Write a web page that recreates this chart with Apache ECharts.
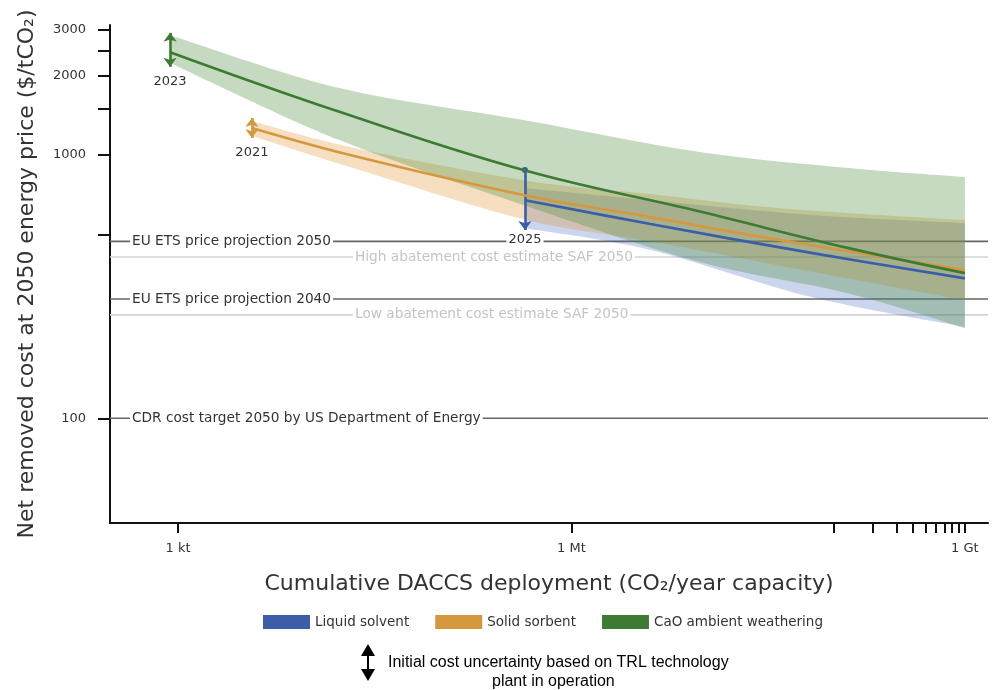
<!DOCTYPE html>
<html><head><meta charset="utf-8">
<script src="https://cdn.jsdelivr.net/npm/echarts@6/dist/echarts.min.js"></script>
<style>html,body{margin:0;padding:0;background:#fff}#c{width:992px;height:690px}</style>
</head><body><div id="c"></div>
<script>
// x: cumulative deployment (t CO2 / year), y: net removed cost ($/tCO2)
const liquidX    = [442000, 4.0e6, 6.9e7, 1e9];
const liquidMid  = [674, 547, 424, 340];
const liquidHigh = [750, 674, 592, 551];
const liquidLow  = [527, 436, 288, 222];

const solidX    = [3660, 20500, 430000, 4.0e6, 3.9e7, 1e9];
const solidMid  = [1267, 1000, 705, 581, 475, 366];
const solidHigh = [1346, 1073, 803, 711, 628, 566];
const solidLow  = [1181, 900, 570, 470, 380, 281];

const caoX    = [870, 17000, 430000, 9.5e6, 1.3e8, 1e9];
const caoMid  = [2460, 1460, 877, 610, 443, 356];
const caoHigh = [2855, 1798, 1359, 1027, 893, 825];
const caoLow  = [2240, 1140, 646, 392, 298, 220];

// initial cost uncertainty (TRL) arrows
const arrowYears = ['2025', '2021', '2023'];
const arrowX     = [442000, 3660, 870];
const arrowLow   = [519, 1161, 2164];
const arrowHigh  = [877, 1383, 2913];

// reference lines
const refValues = [470, 410, 284, 247, 100];
const refLabels = ['EU ETS price projection 2050', 'High abatement cost estimate SAF 2050',
  'EU ETS price projection 2040', 'Low abatement cost estimate SAF 2050',
  'CDR cost target 2050 by US Department of Energy'];
const refStrong = [true, false, true, false, true];

// axes
const xMinT = 303, xMaxT = 1.5e9;
const yMinV = 40, yMaxV = 3120;
const yTicks = [100, 500, 1000, 1500, 2000, 2500, 3000];
const yTickLabels = [100, 1000, 2000, 3000];
const xTicks = [1e3, 1e6, 1e8, 2e8, 3e8, 4e8, 5e8, 6e8, 7e8, 8e8, 9e8, 1e9];
const xTickLabels = [1e3, 1e6, 1e9];
const xTickNames = ['1 kt', '1 Mt', '1 Gt'];

const seriesNames = ['Liquid solvent', 'Solid sorbent', 'CaO ambient weathering'];
const lineColors = ['#3c5ea8', '#d6983f', '#3d7a34'];
const bandColors = ['rgba(70,105,195,0.28)', 'rgba(225,150,45,0.30)', 'rgba(76,140,60,0.32)'];

const lg = Math.log10;
const FONT = 'DejaVu Sans';

const groups = [
  {x: liquidX, mid: liquidMid, hi: liquidHigh, lo: liquidLow},
  {x: solidX, mid: solidMid, hi: solidHigh, lo: solidLow},
  {x: caoX, mid: caoMid, hi: caoHigh, lo: caoLow}
];

// smooth curve through pixel points (Catmull-Rom -> cubic Bezier)
function curveSegs(p) {
  let s = '';
  for (let i = 0; i < p.length - 1; i++) {
    const p0 = p[Math.max(i - 1, 0)], p1 = p[i], p2 = p[i + 1], p3 = p[Math.min(i + 2, p.length - 1)];
    const c1 = [p1[0] + (p2[0] - p0[0]) / 6, p1[1] + (p2[1] - p0[1]) / 6];
    const c2 = [p2[0] - (p3[0] - p1[0]) / 6, p2[1] - (p3[1] - p1[1]) / 6];
    s += ' C' + c1[0] + ',' + c1[1] + ' ' + c2[0] + ',' + c2[1] + ' ' + p2[0] + ',' + p2[1];
  }
  return s;
}

const chart = echarts.init(document.getElementById('c'), null, {renderer: 'canvas'});

const series = [];

// reference lines (under everything)
series.push({
  type: 'custom', name: 'refs', silent: true, z: 1, clip: false,
  data: refValues.map((v, i) => [lg(xMinT), lg(v), i]),
  renderItem: function (params, api) {
    const cs = params.coordSys;
    const y = api.coord([api.value(0), api.value(1)])[1];
    const i = api.value(2);
    const strong = refStrong[i];
    const col = strong ? '#666' : '#d3d3d3';
    return {
      type: 'group',
      children: [
        {type: 'line', shape: {x1: cs.x, y1: y, x2: cs.x + cs.width, y2: y},
          style: {stroke: col, lineWidth: 1.6}},
        {type: 'text', x: cs.x + (strong ? 20 : 243), y: y,
          style: {text: refLabels[i], fill: strong ? '#333' : '#c4c4c4', font: '13.7px "' + FONT + '"',
            verticalAlign: 'middle', align: 'left', backgroundColor: '#fff', padding: [0, 2, 0, 2]}}
      ]
    };
  }
});

// bands
groups.forEach((g, k) => {
  series.push({
    type: 'custom', name: seriesNames[k] + ' band', silent: true, z: 2,
    data: [[lg(g.x[0]), lg(g.mid[0])]],
    renderItem: function (params, api) {
      const up = g.x.map((x, i) => api.coord([lg(x), lg(g.hi[i])]));
      const dn = g.x.map((x, i) => api.coord([lg(x), lg(g.lo[i])])).reverse();
      const d = 'M' + up[0][0] + ',' + up[0][1] + curveSegs(up) +
        ' L' + dn[0][0] + ',' + dn[0][1] + curveSegs(dn) + ' Z';
      return {type: 'path', shape: {pathData: d}, style: {fill: bandColors[k]}};
    }
  });
});

// centre lines + uncertainty arrows
groups.forEach((g, k) => {
  const isLiquid = k === 0;
  series.push({
    type: 'line', name: seriesNames[k], z: 5 + k, smooth: 0.4, showSymbol: false,
    animation: false,
    lineStyle: {color: lineColors[k], width: 2.6},
    itemStyle: {color: lineColors[k]},
    data: g.x.map((x, i) => [lg(x), lg(g.mid[i])]),
    markLine: {
      silent: true, animation: false,
      lineStyle: {color: lineColors[k], width: 2.6, type: 'solid'},
      label: {show: true, position: 'end', distance: isLiquid ? 3 : 8, color: '#333', fontSize: 13, fontFamily: FONT,
        formatter: arrowYears[k],
        backgroundColor: isLiquid ? '#fff' : 'transparent', padding: isLiquid ? [0, 2, 0, 2] : 0},
      data: [[
        {coord: [lg(arrowX[k]), lg(arrowHigh[k])], symbol: isLiquid ? 'circle' : 'arrow', symbolSize: isLiquid ? 6 : [10, 9]},
        {coord: [lg(arrowX[k]), lg(arrowLow[k])], symbol: 'arrow', symbolSize: [10, 9]}
      ]]
    }
  });
});

const option = {
  animation: false,
  backgroundColor: '#fff',
  grid: {left: 110, right: 4, top: 25, bottom: 167, containLabel: false},
  xAxis: {
    type: 'value', min: lg(xMinT), max: lg(xMaxT),
    name: 'Cumulative DACCS deployment (CO\u2082/year capacity)',
    nameLocation: 'middle', nameGap: 50,
    nameTextStyle: {fontSize: 22, color: '#333', fontFamily: FONT},
    splitLine: {show: false},
    axisLine: {lineStyle: {color: '#111', width: 2}},
    axisTick: {show: true, length: 10, lineStyle: {color: '#111', width: 2}, customValues: xTicks.map(lg)},
    axisLabel: {fontSize: 13, color: '#333', fontFamily: FONT, margin: 19, customValues: xTickLabels.map(lg),
      formatter: v => { const idx = xTickLabels.findIndex(t => Math.abs(lg(t) - v) < 1e-6); return idx >= 0 ? xTickNames[idx] : ''; }}
  },
  yAxis: {
    type: 'value', min: lg(yMinV), max: lg(yMaxV),
    name: 'Net removed cost at 2050 energy price ($/tCO\u2082)',
    nameLocation: 'middle', nameGap: 72, nameRotate: 90,
    nameTextStyle: {fontSize: 22, color: '#333', fontFamily: FONT},
    splitLine: {show: false},
    axisLine: {lineStyle: {color: '#111', width: 2}},
    axisTick: {show: true, length: 12, lineStyle: {color: '#111', width: 2}, customValues: yTicks.map(lg)},
    axisLabel: {fontSize: 13, color: '#333', fontFamily: FONT, margin: 24, customValues: yTickLabels.map(lg),
      formatter: v => String(Math.round(Math.pow(10, v)))}
  },
  legend: {
    data: seriesNames, left: 258, top: 610, icon: 'rect', itemWidth: 47, itemHeight: 14, itemGap: 26,
    textStyle: {fontSize: 13.5, color: '#333', fontFamily: FONT},
    selectedMode: false
  },
  graphic: [
    {
      type: 'group', left: 361, top: 644,
      children: [
        {type: 'polygon', shape: {points: [[7, 0], [0, 12], [14, 12]]}, style: {fill: '#000'}},
        {type: 'rect', shape: {x: 6, y: 11, width: 2, height: 15}, style: {fill: '#000'}},
        {type: 'polygon', shape: {points: [[0, 25], [14, 25], [7, 37]]}, style: {fill: '#000'}}
      ]
    },
    {type: 'text', left: 388, top: 655,
      style: {text: 'Initial cost uncertainty based on TRL technology', fill: '#000', font: '16px "Liberation Sans", Arial'}},
    {type: 'text', left: 492, top: 674,
      style: {text: 'plant in operation', fill: '#000', font: '16px "Liberation Sans", Arial'}}
  ],
  series: series
};
chart.setOption(option);
</script></body></html>
